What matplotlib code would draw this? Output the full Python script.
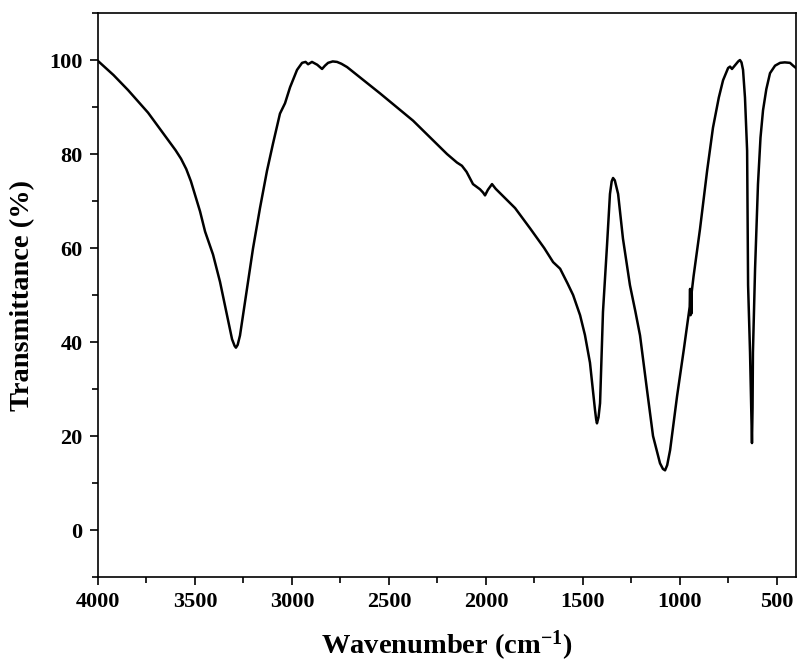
import matplotlib
matplotlib.use("Agg")
import matplotlib.pyplot as plt
from matplotlib.ticker import MultipleLocator

wavenumber = [4000, 3920, 3845, 3742, 3655, 3600, 3572, 3545, 3521, 3474, 3448,
              3407, 3371, 3335, 3309, 3296, 3289, 3280, 3268, 3232, 3201, 3165,
              3129, 3098, 3062, 3048, 3036, 3010, 2974, 2948, 2930, 2917, 2897,
              2870, 2845, 2830, 2814, 2790, 2768, 2745, 2716, 2546, 2376, 2201,
              2150, 2124, 2100, 2067, 2031, 2015, 2005, 1990, 1969, 1950, 1850,
              1773, 1700, 1654, 1618, 1580, 1551, 1515, 1490, 1464, 1438, 1432,
              1428, 1420, 1412, 1397, 1376, 1361, 1352, 1345, 1336, 1319, 1294,
              1258, 1230, 1206, 1170, 1139, 1103, 1088, 1077, 1066, 1051, 1015,
              980, 959, 950, 948, 946, 944, 942, 940, 930, 897, 860, 830, 800,
              778, 752, 742, 732, 716, 700, 691, 683, 675, 665, 654, 649, 639,
              632, 629, 626, 624, 613, 598, 585, 572, 555, 536, 510, 484, 460,
              433, 417, 402]
transmittance = [99.8, 96.8, 93.6, 88.8, 83.9, 80.8, 79.0, 76.8, 74.2, 67.8, 63.5,
                 58.6, 52.8, 45.7, 40.6, 39.2, 38.8, 39.4, 41.4, 51.3, 59.9, 68.5,
                 76.4, 82.2, 88.6, 89.8, 90.8, 94.2, 97.9, 99.4, 99.6, 99.1, 99.6,
                 99.0, 98.1, 98.8, 99.4, 99.7, 99.6, 99.2, 98.5, 92.9, 87.1, 80.0,
                 78.2, 77.5, 76.2, 73.6, 72.5, 71.8, 71.2, 72.4, 73.6, 72.6, 68.5,
                 64.2, 60.0, 57.0, 55.6, 52.5, 50.0, 45.7, 41.5, 35.6, 25.5, 23.5,
                 22.7, 24.0, 27.0, 46.4, 60.7, 71.5, 74.2, 74.9, 74.4, 71.5, 62.0,
                 52.1, 46.5, 41.4, 29.8, 20.0, 14.2, 13.0, 12.7, 13.8, 17.0, 28.5,
                 38.5, 44.8, 47.5, 51.3, 45.7, 51.0, 46.0, 50.5, 54.0, 64.0, 76.5, 85.6, 92.0,
                 95.7, 98.3, 98.6, 98.1, 98.9, 99.7, 100.0, 99.5, 97.9, 92.0, 80.7, 52.1, 37.8,
                 24.0, 18.5, 26.0, 37.8, 55.6, 73.6, 83.5, 89.3, 93.8, 97.2, 98.8, 99.4, 99.5,
                 99.4, 98.8, 98.3]

x_ticks = [4000, 3500, 3000, 2500, 2000, 1500, 1000, 500]
y_ticks = [0, 20, 40, 60, 80, 100]

plt.rcParams['font.family'] = ['Liberation Serif', 'DejaVu Serif']
plt.rcParams['font.weight'] = 'bold'
plt.rcParams['mathtext.fontset'] = 'custom'
plt.rcParams['mathtext.rm'] = 'Liberation Serif:bold'
plt.rcParams['mathtext.bf'] = 'Liberation Serif:bold'
plt.rcParams['mathtext.default'] = 'bf'

fig = plt.figure(figsize=(7.98, 6.68), dpi=100)
ax = fig.add_axes([0.1228, 0.1362, 0.8747, 0.8443])
ax.plot(wavenumber, transmittance, color='black', lw=1.8, solid_joinstyle='round')
ax.set_xlim(4000, 402)
ax.set_ylim(-10, 110)
ax.set_xticks(x_ticks)
ax.set_yticks(y_ticks)
ax.xaxis.set_minor_locator(MultipleLocator(250))
ax.yaxis.set_minor_locator(MultipleLocator(10))
ax.tick_params(which='both', direction='out', top=False, right=False, width=1.2,
               labelsize=16)
ax.tick_params(which='major', length=6, pad=5)
ax.tick_params(which='minor', length=4)
for lab in ax.get_xticklabels() + ax.get_yticklabels():
    lab.set_fontweight('bold')
for s in ax.spines.values():
    s.set_linewidth(1.2)
ax.set_xlabel('Wavenumber (cm$^{-1}$)', fontsize=20.5, fontweight='bold', labelpad=12)
ax.set_ylabel('Transmittance (%)', fontsize=20.5, fontweight='bold', labelpad=10)
fig.savefig('out.png', dpi=100)
